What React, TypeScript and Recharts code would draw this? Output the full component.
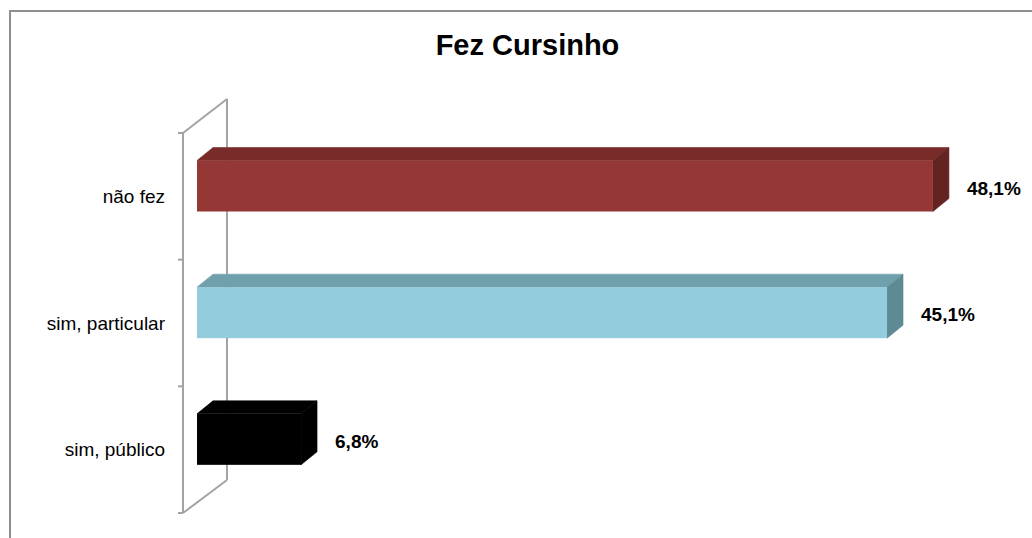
import { BarChart, Bar, XAxis, YAxis, LabelList } from "recharts";

// Fez Cursinho: share of respondents by prep-course type
const categories = ["não fez", "sim, particular", "sim, público"];
const percentages = [48.1, 45.1, 6.8];

const data = categories.map((name, i) => ({ name, value: percentages[i] }));

const W = 1032;
const H = 538;
const FONT = '"Liberation Sans", Arial, Helvetica, sans-serif';

// plot geometry (3D look imitating the Excel original)
const PLOT_LEFT = 197;
const PLOT_RIGHT = 962;
const PLOT_TOP = 133;
const PLOT_BOTTOM = 513;
const AXIS_W = 120;
const DEPTH_X = 16;
const DEPTH_Y = 13;
const LIFT = 10.5;

const faces = [
  { front: "#953735", top: "#772c2a", side: "#632321" },
  { front: "#93cddd", top: "#71a0ad", side: "#5e8a94" },
  { front: "#000000", top: "#000000", side: "#000000" },
];

function Box3D(props: any) {
  const { x, y, width, height, index } = props;
  const c = faces[index % faces.length];
  const fy = y - LIFT;
  const x2 = x + width;
  return (
    <g strokeWidth={0.6} strokeLinejoin="round">
      <polygon
        points={`${x},${fy} ${x + DEPTH_X},${fy - DEPTH_Y} ${x2 + DEPTH_X},${fy - DEPTH_Y} ${x2},${fy}`}
        fill={c.top}
        stroke={c.top}
      />
      <polygon
        points={`${x2},${fy} ${x2 + DEPTH_X},${fy - DEPTH_Y} ${x2 + DEPTH_X},${fy + height - DEPTH_Y} ${x2},${fy + height}`}
        fill={c.side}
        stroke={c.side}
      />
      <rect x={x} y={fy} width={width} height={height} fill={c.front} />
    </g>
  );
}

function ValueLabel(props: any) {
  const { x, y, width, height, value } = props;
  return (
    <text
      x={x + width + 34}
      y={y - LIFT + height / 2 + 2}
      dy="0.355em"
      fontFamily={FONT}
      fontSize={19}
      fontWeight="bold"
      fill="#000"
    >
      {Number(value).toFixed(1).replace(".", ",")}%
    </text>
  );
}

function Wall() {
  const fx = PLOT_LEFT - 14;
  const bx = PLOT_LEFT + 30;
  const dy = 34;
  const band = (PLOT_BOTTOM - PLOT_TOP) / categories.length;
  const ticks = Array.from({ length: categories.length + 1 }, (_, i) => PLOT_TOP + i * band);
  const stroke = "#a3a3a3";
  return (
    <g>
      <line x1={fx} y1={PLOT_TOP} x2={fx} y2={PLOT_BOTTOM} stroke={stroke} strokeWidth={2} />
      <line x1={bx} y1={PLOT_TOP - dy} x2={bx} y2={PLOT_BOTTOM - dy + 1} stroke={stroke} strokeWidth={2} />
      <line x1={fx} y1={PLOT_TOP} x2={bx} y2={PLOT_TOP - dy} stroke={stroke} strokeWidth={2} />
      <line x1={fx} y1={PLOT_BOTTOM} x2={bx} y2={PLOT_BOTTOM - dy + 1} stroke={stroke} strokeWidth={2} />
      {ticks.map((t) => (
        <line key={t} x1={fx - 5} y1={t} x2={fx} y2={t} stroke={stroke} strokeWidth={2} />
      ))}
    </g>
  );
}

export default function App() {
  return (
    <div
      style={{
        position: "absolute",
        left: 0,
        top: 0,
        width: W,
        height: H,
        overflow: "hidden",
        background: "#fff",
        fontFamily: FONT,
      }}
    >
      <div
        style={{
          position: "absolute",
          left: 9,
          top: 10,
          width: W + 40,
          height: H + 40,
          borderLeft: "2px solid #8e8e8e",
          borderTop: "2px solid #8e8e8e",
        }}
      />
      <div
        style={{
          position: "absolute",
          left: 0,
          top: 28,
          width: 1055,
          textAlign: "center",
          fontSize: 29,
          fontWeight: "bold",
          color: "#000",
          lineHeight: "34px",
        }}
      >
        Fez Cursinho
      </div>
      <div style={{ position: "absolute", left: 0, top: 0 }}>
        <BarChart
          width={W}
          height={H}
          data={data}
          layout="vertical"
          barSize={51}
          margin={{
            top: PLOT_TOP,
            bottom: H - PLOT_BOTTOM,
            left: PLOT_LEFT - AXIS_W,
            right: W - PLOT_RIGHT,
          }}
        >
          <Wall />
          <XAxis type="number" domain={[0, 50]} hide />
          <YAxis
            type="category"
            dataKey="name"
            width={AXIS_W}
            axisLine={false}
            tickLine={false}
            tickSize={0}
            tickMargin={32}
            tick={{ fontSize: 19, fill: "#000", fontFamily: FONT }}
          />
          <Bar dataKey="value" shape={<Box3D />} isAnimationActive={false}>
            <LabelList dataKey="value" content={<ValueLabel />} />
          </Bar>
        </BarChart>
      </div>
    </div>
  );
}
